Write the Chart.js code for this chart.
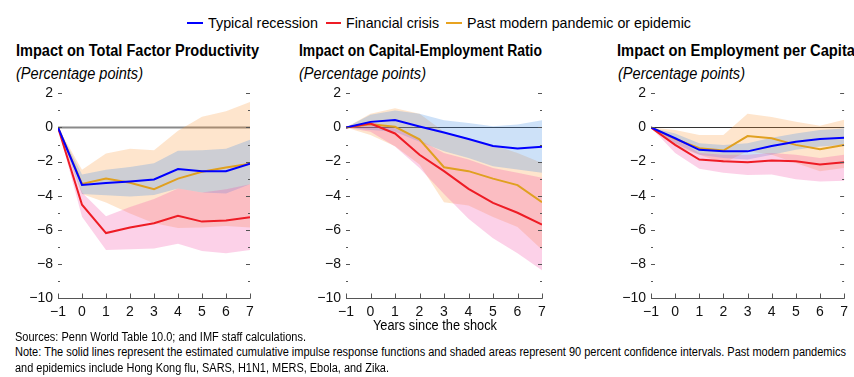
<!DOCTYPE html>
<html>
<head>
<meta charset="utf-8">
<script src="https://cdn.jsdelivr.net/npm/chart.js@4/dist/chart.umd.min.js"></script>
<style>
  html, body { margin: 0; padding: 0; background: #fff; }
  body { width: 854px; height: 377px; position: relative; overflow: hidden;
         font-family: "Liberation Sans", Arial, sans-serif; color: #000; }
  .t { position: absolute; white-space: nowrap; transform-origin: 0 50%; line-height: 1; }
  .title { font-weight: bold; font-size: 16px; }
  .sub { font-style: italic; font-size: 16px; }
  .leg { font-size: 15px; }
  .note { font-size: 12px; }
  .swatch { position: absolute; height: 2px; }
  canvas { position: absolute; }
</style>
</head>
<body>
<div class="swatch" style="left:187px;top:22px;width:16px;background:#0000ff"></div>
<div class="t leg" data-w="110" style="left:208px;top:15px">Typical recession</div>
<div class="swatch" style="left:326px;top:22px;width:15px;background:#ee1c25"></div>
<div class="t leg" data-w="93" style="left:346px;top:15px">Financial crisis</div>
<div class="swatch" style="left:446px;top:22px;width:16px;background:#e8a320"></div>
<div class="t leg" data-w="224" style="left:467px;top:15px">Past modern pandemic or epidemic</div>

<div class="t title" data-w="243" style="left:16px;top:43px">Impact on Total Factor Productivity</div>
<div class="t sub" data-w="127" style="left:16px;top:66px">(Percentage points)</div>
<div class="t title" data-w="243" style="left:299px;top:43px">Impact on Capital-Employment Ratio</div>
<div class="t sub" data-w="127" style="left:299px;top:66px">(Percentage points)</div>
<div class="t title" data-w="238" style="left:617px;top:43px">Impact on Employment per Capita</div>
<div class="t sub" data-w="127" style="left:618px;top:66px">(Percentage points)</div>

<canvas id="c1" width="262" height="260" style="left:0px;top:80px"></canvas>
<canvas id="c2" width="262" height="260" style="left:290px;top:80px"></canvas>
<canvas id="c3" width="259" height="260" style="left:595px;top:80px"></canvas>

<div class="t" data-w="124" style="left:373px;top:318px;font-size:14px">Years since the shock</div>
<div class="t note" data-w="291" style="left:15px;top:331px">Sources: Penn World Table 10.0; and IMF staff calculations.</div>
<div class="t note" data-w="831" style="left:15px;top:346px">Note: The solid lines represent the estimated cumulative impulse response functions and shaded areas represent 90 percent confidence intervals. Past modern pandemics</div>
<div class="t note" data-w="374" style="left:15px;top:362px">and epidemics include Hong Kong flu, SARS, H1N1, MERS, Ebola, and Zika.</div>

<script>
// ---------------- data ----------------
const years = [-1, 0, 1, 2, 3, 4, 5, 6, 7];
const yTicks = [-10, -8, -6, -4, -2, 0, 2];
const seriesNames = ['Typical recession', 'Financial crisis', 'Past modern pandemic or epidemic'];

// Total Factor Productivity
const tfpRecession      = [0, -3.37, -3.26, -3.16, -3.05, -2.44, -2.57, -2.57, -2.13];
const tfpRecessionUpper = [0, -2.76, -2.48, -2.32, -2.10, -1.37, -1.33, -1.24, -0.72];
const tfpRecessionLower = [0, -3.90, -3.98, -4.04, -3.96, -3.58, -3.81, -3.87, -3.33];
const tfpFinancial      = [0, -4.53, -6.19, -5.87, -5.62, -5.18, -5.52, -5.45, -5.26];
const tfpFinancialUpper = [0, -3.81, -5.20, -4.67, -4.19, -3.58, -3.81, -3.62, -3.33];
const tfpFinancialLower = [0, -5.24, -7.18, -7.14, -7.10, -6.82, -7.24, -7.37, -7.18];
const tfpPandemic       = [0, -3.31, -2.99, -3.24, -3.62, -3.00, -2.60, -2.34, -2.13];
const tfpPandemicUpper  = [0, -2.48, -1.52, -1.24, -1.33, -0.19, 0.63, 0.95, 1.49];
const tfpPandemicLower  = [0, -3.90, -4.40, -5.05, -5.62, -5.90, -5.87, -5.77, -5.87];

// Capital-Employment Ratio
const keRecession      = [0, 0.33, 0.44, 0.06, -0.29, -0.67, -1.08, -1.23, -1.13];
const keRecessionUpper = [0, 0.75, 1.00, 0.80, 0.42, 0.27, 0.08, 0.17, 0.42];
const keRecessionLower = [0, -0.15, -0.25, -0.83, -1.40, -1.79, -2.27, -2.46, -2.65];
const keFinancial      = [0, 0.23, -0.35, -1.60, -2.56, -3.60, -4.42, -5.00, -5.69];
const keFinancialUpper = [0, 0.33, -0.06, -0.73, -1.50, -1.88, -2.37, -2.65, -2.94];
const keFinancialLower = [0, -0.25, -1.12, -2.37, -3.90, -5.35, -6.50, -7.37, -8.37];
const kePandemic       = [0, 0.19, 0.04, -0.69, -2.33, -2.56, -3.00, -3.38, -4.38];
const kePandemicUpper  = [0, 0.81, 1.13, 0.80, -0.25, -0.63, -1.02, -1.50, -2.08];
const kePandemicLower  = [0, -0.44, -1.10, -2.17, -4.38, -4.58, -5.25, -5.83, -7.17];

// Employment per Capita
const epRecession      = [0, -0.63, -1.31, -1.40, -1.40, -1.08, -0.83, -0.67, -0.60];
const epRecessionUpper = [0, -0.35, -0.92, -1.02, -0.92, -0.60, -0.35, -0.15, -0.06];
const epRecessionLower = [0, -0.92, -1.60, -1.79, -1.88, -1.60, -1.31, -1.12, -1.02];
const epFinancial      = [0, -1.02, -1.88, -1.98, -2.04, -1.94, -1.98, -2.17, -2.04];
const epFinancialUpper = [0, -0.63, -1.50, -1.60, -1.60, -1.50, -1.60, -1.79, -1.60];
const epFinancialLower = [0, -1.50, -2.42, -2.65, -2.79, -2.75, -3.04, -3.17, -3.13];
const epPandemic       = [0, -0.67, -1.21, -1.35, -0.50, -0.63, -1.02, -1.27, -1.02];
const epPandemicUpper  = [0, -0.15, -0.44, -0.44, 0.81, 0.62, 0.33, 0.10, 0.46];
const epPandemicLower  = [0, -1.10, -1.60, -2.08, -1.40, -1.60, -2.08, -2.56, -2.37];

// ---------------- styling ----------------
const COL = {
  recLine: '#0000ff', finLine: '#ee1c25', panLine: '#e0a020',
  recBand: 'rgba(70,145,230,0.27)', finBand: 'rgba(245,70,165,0.25)', panBand: 'rgba(250,150,55,0.25)'
};
const FONT = '"Liberation Sans", Arial, sans-serif';

// fit text widths
document.querySelectorAll('[data-w]').forEach(el => {
  const w = el.getBoundingClientRect().width;
  const target = parseFloat(el.dataset.w);
  el.style.transform = 'scaleX(' + (target / w).toFixed(4) + ')';
});

function minus(v) { return v < 0 ? '\u2212' + Math.abs(v) : String(v); }
function pts(arr) { return years.map((x, i) => ({ x: x, y: arr[i] })); }

const axisPlugin = {
  id: 'axisDecor',
  beforeDatasetsDraw(chart, args, opts) {
    const ctx = chart.ctx, ca = chart.chartArea, ys = chart.scales.y;
    const y0 = Math.round(ys.getPixelForValue(0)) + 0.5;
    ctx.save();
    ctx.strokeStyle = opts.zeroColor; ctx.lineWidth = opts.zeroWidth;
    ctx.beginPath(); ctx.moveTo(ca.left, y0); ctx.lineTo(ca.right, y0); ctx.stroke();
    ctx.restore();
  },
  afterDraw(chart) {
    const ctx = chart.ctx, ca = chart.chartArea, ys = chart.scales.y, xs = chart.scales.x;
    ctx.save();
    ctx.strokeStyle = '#555'; ctx.lineWidth = 1;
    ctx.beginPath();
    for (let v = ys.min; v <= ys.max; v++) {
      if (v === ys.min) continue;
      const py = Math.round(ys.getPixelForValue(v)) + 0.5;
      const len = (v % 2 === 0) ? 4 : 2;
      ctx.moveTo(ca.left, py); ctx.lineTo(ca.left + len, py);
      ctx.moveTo(ca.right - len, py); ctx.lineTo(ca.right, py);
    }
    const yb = Math.round(ys.getPixelForValue(ys.min)) + 0.5;
    ctx.moveTo(ca.left, yb); ctx.lineTo(ca.right + 0.5, yb);
    for (let v = xs.min; v <= xs.max; v++) {
      const px = Math.round(xs.getPixelForValue(v)) + 0.5;
      ctx.moveTo(px, yb); ctx.lineTo(px, yb - 5);
    }
    ctx.stroke();
    ctx.restore();
  }
};

function band(upper, lower, color, order) {
  return [
    { data: pts(upper), borderWidth: 0, pointRadius: 0, fill: false, order: order, borderColor: 'rgba(0,0,0,0)' },
    { data: pts(lower), borderWidth: 0, pointRadius: 0, fill: '-1', backgroundColor: color, order: order, borderColor: 'rgba(0,0,0,0)' }
  ];
}
function line(arr, color, name) {
  return { label: name, data: pts(arr), borderColor: color, borderWidth: 2, pointRadius: 0, fill: false, order: 0, tension: 0 };
}

function makePanel(id, s, yWidth, padRight, zeroColor, zeroWidth) {
  const datasets = [
    line(s.rec, COL.recLine, seriesNames[0]),
    line(s.fin, COL.finLine, seriesNames[1]),
    line(s.pan, COL.panLine, seriesNames[2]),
    ...band(s.finU, s.finL, COL.finBand, 1),
    ...band(s.recU, s.recL, COL.recBand, 2),
    ...band(s.panU, s.panL, COL.panBand, 3)
  ];
  new Chart(document.getElementById(id), {
    type: 'line',
    data: { datasets: datasets },
    plugins: [axisPlugin],
    options: {
      responsive: false, animation: false, devicePixelRatio: 1,
      layout: { padding: { top: 7, right: padRight, left: 0, bottom: 0 } },
      plugins: { legend: { display: false }, tooltip: { enabled: false },
                 axisDecor: { zeroColor: zeroColor, zeroWidth: zeroWidth } },
      scales: {
        x: {
          type: 'linear', min: years[0], max: years[years.length - 1],
          grid: { display: false, drawTicks: false }, border: { display: false },
          ticks: { stepSize: 1, padding: 6, color: '#111', font: { family: FONT, size: 14 }, callback: minus, maxRotation: 0 },
          afterFit: sc => { sc.height = 42; }
        },
        y: {
          min: yTicks[0], max: yTicks[yTicks.length - 1],
          grid: { display: false, drawTicks: false }, border: { display: false },
          ticks: { stepSize: 2, padding: 5, color: '#111', font: { family: FONT, size: 14 }, callback: minus },
          afterFit: sc => { sc.width = yWidth; }
        }
      }
    }
  });
}

makePanel('c1', { rec: tfpRecession, recU: tfpRecessionUpper, recL: tfpRecessionLower,
                  fin: tfpFinancial, finU: tfpFinancialUpper, finL: tfpFinancialLower,
                  pan: tfpPandemic, panU: tfpPandemicUpper, panL: tfpPandemicLower }, 58, 12, '#8a8a8a', 2);
makePanel('c2', { rec: keRecession, recU: keRecessionUpper, recL: keRecessionLower,
                  fin: keFinancial, finU: keFinancialUpper, finL: keFinancialLower,
                  pan: kePandemic, panU: kePandemicUpper, panL: kePandemicLower }, 56, 10, '#333', 1);
makePanel('c3', { rec: epRecession, recU: epRecessionUpper, recL: epRecessionLower,
                  fin: epFinancial, finU: epFinancialUpper, finL: epFinancialLower,
                  pan: epPandemic, panU: epPandemicUpper, panL: epPandemicLower }, 56, 8, '#333', 1);
</script>
</body>
</html>
